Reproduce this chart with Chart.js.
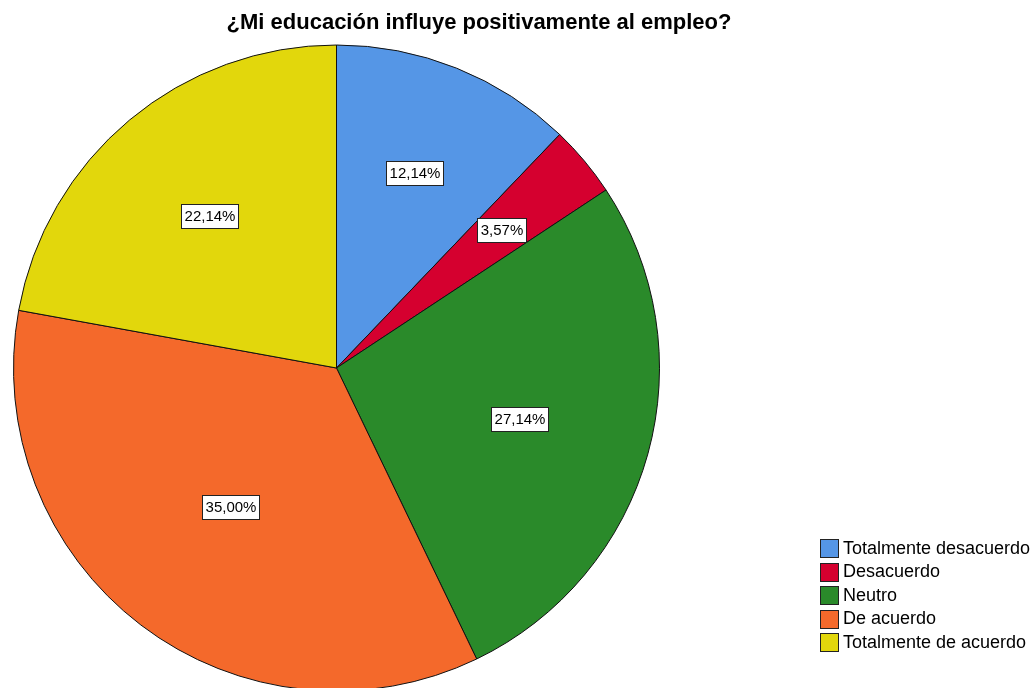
<!DOCTYPE html>
<html>
<head>
<meta charset="utf-8">
<script src="https://cdn.jsdelivr.net/npm/chart.js@4"></script>
<style>
  html, body { margin: 0; padding: 0; background: #fff; overflow: hidden; }
</style>
</head>
<body>
<canvas id="pieChart" width="1035" height="700"></canvas>
<script>
// data
const chartTitle = '¿Mi educación influye positivamente al empleo?';
const categories = ['Totalmente desacuerdo', 'Desacuerdo', 'Neutro', 'De acuerdo', 'Totalmente de acuerdo'];
const percentages = [12.14, 3.57, 27.14, 35.00, 22.14];
const sliceColors = ['#5596E6', '#D5002F', '#2A8A2A', '#F4692B', '#E2D70C'];

const FONT = '"Liberation Sans", Arial, sans-serif';

// percentage boxes at the centroid of each slice
const sliceLabels = {
  id: 'sliceLabels',
  afterDatasetsDraw(chart) {
    const ctx = chart.ctx;
    const meta = chart.getDatasetMeta(0);
    ctx.save();
    ctx.font = '15px ' + FONT;
    ctx.textAlign = 'center';
    ctx.textBaseline = 'middle';
    meta.data.forEach((arc, i) => {
      const p = arc.getProps(['x', 'y', 'startAngle', 'endAngle', 'outerRadius']);
      const half = (p.endAngle - p.startAngle) / 2;
      const mid = p.startAngle + half;
      const d = 2 * p.outerRadius * Math.sin(half) / (3 * half);
      const x = p.x + Math.cos(mid) * d;
      const y = p.y + Math.sin(mid) * d;
      const text = percentages[i].toFixed(2).replace('.', ',') + '%';
      const w = Math.round(ctx.measureText(text).width + 6);
      const h = 24;
      const left = Math.round(x - w / 2), top = Math.round(y - h / 2);
      ctx.fillStyle = '#fff';
      ctx.fillRect(left, top, w, h);
      ctx.strokeStyle = '#222';
      ctx.lineWidth = 1;
      ctx.strokeRect(left + 0.5, top + 0.5, w, h);
      ctx.fillStyle = '#000';
      ctx.fillText(text, left + w / 2 + 0.5, top + h / 2 + 1);
    });
    ctx.restore();
  }
};

// title + legend
const decorations = {
  id: 'decorations',
  afterDraw(chart) {
    const ctx = chart.ctx;
    ctx.save();
    ctx.fillStyle = '#000';
    ctx.font = 'bold 22px ' + FONT;
    ctx.textAlign = 'center';
    ctx.textBaseline = 'middle';
    ctx.fillText(chartTitle, 479, 23);

    ctx.font = '18px ' + FONT;
    ctx.textAlign = 'left';
    categories.forEach((name, i) => {
      const y = 548 + i * 23.5;
      ctx.fillStyle = sliceColors[i];
      ctx.fillRect(820, Math.round(y - 9), 18, 18);
      ctx.strokeStyle = '#222';
      ctx.strokeRect(820.5, Math.round(y - 9) + 0.5, 18, 18);
      ctx.fillStyle = '#000';
      ctx.fillText(name, 843, y + 1);
    });
    ctx.restore();
  }
};

new Chart(document.getElementById('pieChart'), {
  type: 'pie',
  data: {
    labels: categories,
    datasets: [{
      data: percentages,
      backgroundColor: sliceColors,
      borderColor: '#111',
      borderWidth: 1
    }]
  },
  options: {
    responsive: false,
    animation: false,
    radius: 323,
    layout: { padding: { left: 13, right: 375, top: 45, bottom: 9 } },
    plugins: {
      legend: { display: false },
      title: { display: false },
      tooltip: { enabled: false }
    }
  },
  plugins: [sliceLabels, decorations]
});
</script>
</body>
</html>
